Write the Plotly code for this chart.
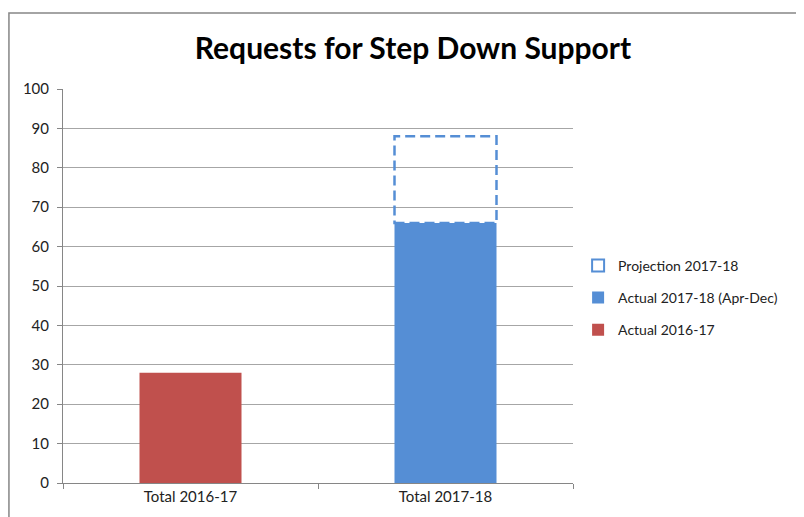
import plotly.graph_objects as go

categories = ["Total 2016-17", "Total 2017-18"]
actual_2016 = [28, None]
actual_2017 = [None, 66]
projection_2017 = [None, 88]  # projected full-year total
series_names = ["Actual 2016-17", "Actual 2017-18 (Apr-Dec)", "Projection 2017-18"]
y_ticks = list(range(0, 101, 10))

RED = "#C0504D"
BLUE = "#558ED5"
FONT = "Lato, 'Open Sans', sans-serif"

bar_width = 0.4

fig = go.Figure()
# legend entry for projection (outline only)
fig.add_trace(go.Bar(x=categories, y=[None, None], name=series_names[2],
                     marker=dict(color="rgba(0,0,0,0)", line=dict(color=BLUE, width=2)),
                     width=bar_width, legendgroup="c"))
fig.add_trace(go.Bar(x=categories, y=actual_2017, name=series_names[1],
                     marker=dict(color=BLUE, line=dict(width=0)), width=bar_width,
                     legendgroup="b"))
fig.add_trace(go.Bar(x=categories, y=actual_2016, name=series_names[0],
                     marker=dict(color=RED, line=dict(width=0)), width=bar_width,
                     legendgroup="a"))

# dashed outline of projection above the actual value
idx = 1
fig.add_shape(type="rect", xref="x", yref="y",
              x0=idx - bar_width / 2, x1=idx + bar_width / 2,
              y0=actual_2017[idx], y1=projection_2017[idx],
              line=dict(color=BLUE, width=2.5, dash="10px,5px"),
              fillcolor="rgba(0,0,0,0)", layer="above")

# outer chart border
fig.add_shape(type="rect", xref="paper", yref="paper",
              x0=-0.106, x1=1.6, y0=-0.5, y1=1.193,
              line=dict(color="#868686", width=1.5))

fig.update_layout(
    width=804, height=517,
    margin=dict(l=55, r=239, t=81, b=42),
    paper_bgcolor="white", plot_bgcolor="white",
    barmode="overlay",
    bargap=0.6,
    font=dict(family=FONT, size=15, color="#222"),
    title=dict(text="<b>Requests for Step Down Support</b>",
               x=405 / 804, xanchor="center", y=1 - 40 / 517, yanchor="middle",
               font=dict(family=FONT, size=30, color="#000")),
    legend=dict(x=1.010, y=0.47, xanchor="left", yanchor="middle",
                font=dict(family=FONT, size=14, color="#222"),
                traceorder="grouped", tracegroupgap=11,
                itemwidth=30, bgcolor="rgba(0,0,0,0)"),
    showlegend=True,
)
fig.update_xaxes(type="category", categoryorder="array", categoryarray=categories,
                 tickson="boundaries", ticks="outside", ticklen=5,
                 tickcolor="#868686", showline=True, linecolor="#868686", linewidth=1,
                 showgrid=False, tickfont=dict(size=15), range=[-0.5, 1.5])
fig.update_yaxes(range=[0, 100], tickvals=y_ticks, ticks="outside", ticklen=5,
                 tickcolor="#868686", showline=True, linecolor="#868686", linewidth=1,
                 showgrid=True, gridcolor="#A6A6A6", gridwidth=1, zeroline=False,
                 ticklabelstandoff=5, tickfont=dict(size=15))

fig.write_html("out.html")
